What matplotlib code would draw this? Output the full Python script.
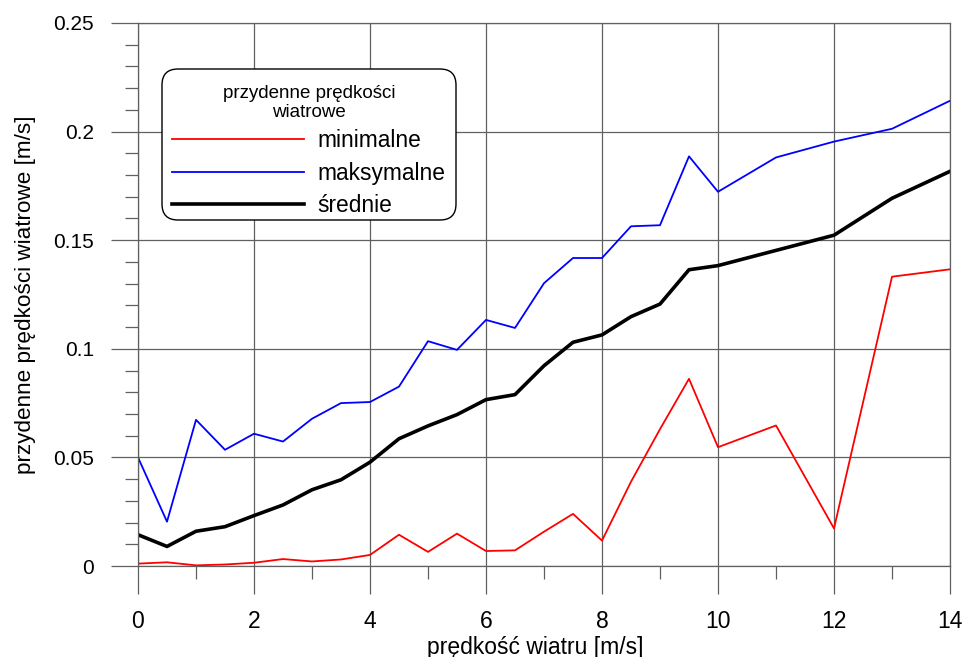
import matplotlib
matplotlib.use("Agg")
import matplotlib.pyplot as plt
from matplotlib.patches import FancyBboxPatch
from matplotlib.transforms import IdentityTransform
from matplotlib.ticker import MultipleLocator

plt.rcParams['font.family'] = ['Liberation Sans', 'DejaVu Sans']

# wind speed classes [m/s]
wiatr = [0, 0.5, 1, 1.5, 2, 2.5, 3, 3.5, 4, 4.5, 5, 5.5, 6, 6.5, 7, 7.5,
         8, 8.5, 9, 9.5, 10, 11, 12, 13, 14]

# near-bottom wind-driven velocities [m/s]
minimalne = [0.0011, 0.0017, 0.0003, 0.0007, 0.0015, 0.0032, 0.0021, 0.0030,
             0.0051, 0.0144, 0.0065, 0.0149, 0.0069, 0.0072, 0.0158, 0.0240,
             0.0117, 0.0388, 0.0630, 0.0862, 0.0547, 0.0647, 0.0173, 0.1332,
             0.1366]
maksymalne = [0.0500, 0.0204, 0.0673, 0.0535, 0.0609, 0.0573, 0.0678, 0.0750,
              0.0755, 0.0826, 0.1035, 0.0995, 0.1133, 0.1096, 0.1302, 0.1418,
              0.1418, 0.1564, 0.1569, 0.1886, 0.1723, 0.1881, 0.1954, 0.2013,
              0.2142]
srednie = [0.0144, 0.0090, 0.0160, 0.0181, 0.0232, 0.0281, 0.0351, 0.0397,
           0.0478, 0.0586, 0.0645, 0.0697, 0.0766, 0.0789, 0.0922, 0.1030,
           0.1064, 0.1148, 0.1206, 0.1364, 0.1383, 0.1453, 0.1523, 0.1693,
           0.1817]

W, H = 964, 657
fig = plt.figure(figsize=(W / 100, H / 100), dpi=100)
ax = fig.add_axes([138 / W, 1 - 566 / H, 812 / W, 543 / H])

ax.plot(wiatr, minimalne, color='#ff0000', lw=1.3, label='minimalne')
ax.plot(wiatr, maksymalne, color='#0000ff', lw=1.3, label='maksymalne')
ax.plot(wiatr, srednie, color='black', lw=2.6, label='średnie')

ax.set_xlim(0, 14)
ax.set_ylim(0, 0.25)
ax.xaxis.set_major_locator(MultipleLocator(2))
ax.xaxis.set_minor_locator(MultipleLocator(1))
ax.yaxis.set_minor_locator(MultipleLocator(0.01))
ax.set_yticks([0, 0.05, 0.1, 0.15, 0.2, 0.25])
ax.set_yticklabels(['0', '0.05', '0.1', '0.15', '0.2', '0.25'])

gray = '#606060'
ax.grid(True, which='major', color=gray, lw=0.9)
ax.set_axisbelow(True)
for s in ax.spines.values():
    s.set_color(gray)
    s.set_linewidth(0.9)

ax.tick_params(axis='x', which='major', direction='out', length=20, width=0.9,
               color=gray, labelsize=16.5, pad=12)
ax.tick_params(axis='x', which='minor', direction='out', length=9.5, width=0.9,
               color=gray)
ax.tick_params(axis='y', which='major', direction='out', length=19.5, width=0.9,
               color=gray, labelsize=15, pad=12)
ax.tick_params(axis='y', which='minor', direction='out', length=9.5, width=0.9,
               color=gray)

ax.set_xlabel('prędkość wiatru [m/s]', fontsize=16.5)
ax.xaxis.set_label_coords(0.489, -0.128)
ax.set_ylabel('przydenne prędkości wiatrowe [m/s]', fontsize=16.2)
ax.yaxis.set_label_coords(-0.126, 0.5)

# rounded legend box (drawn in pixels), title and entries sit on top of it
box = FancyBboxPatch((162, H - 220), 294, 151,
                     boxstyle='round,pad=0,rounding_size=16',
                     transform=IdentityTransform(), facecolor='white',
                     edgecolor='black', lw=1.0, zorder=4, clip_on=False)
ax.add_artist(box)
fig.text(309 / W, 1 - 103 / H, 'przydenne prędkości\nwiatrowe',
         fontsize=13.5, ha='center', va='center', multialignment='center',
         linespacing=1.2, zorder=6)

leg = ax.legend(loc='upper left',
                bbox_to_anchor=(162 / W, 1 - 119 / H),
                bbox_transform=fig.transFigure,
                borderaxespad=0, borderpad=0.45, fontsize=16.4,
                handlelength=5.8, handletextpad=0.57, labelspacing=0.41,
                frameon=False)
leg.set_zorder(5)

fig.savefig('out.png', dpi=100)
